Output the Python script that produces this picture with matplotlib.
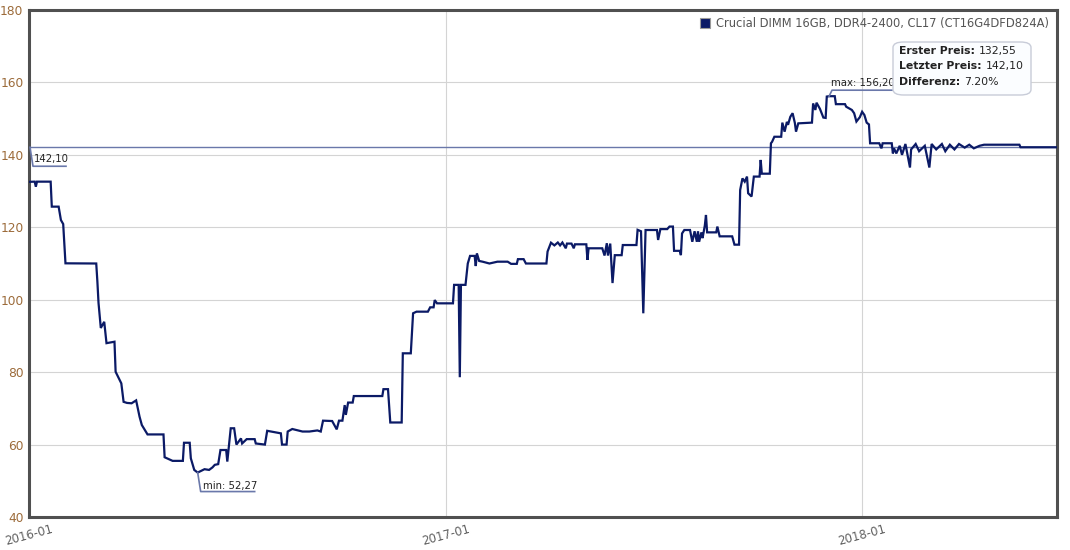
import matplotlib
matplotlib.use("Agg")
import matplotlib.pyplot as plt
import matplotlib.dates as mdates
import matplotlib.transforms as mtrans
from matplotlib.patches import FancyBboxPatch, Rectangle
import pandas as pd
import numpy as np

# ---- data (day offset from 2016-01-01, price in EUR) ----
start_date = "2016-01-01"
end_date = "2018-06-21"
days = [0, 5, 6, 7, 19, 20, 26, 28, 30, 32, 59, 60, 61, 63, 66, 68, 75, 76, 81, 83,
        86, 90, 94, 97, 99, 104, 118, 119, 126, 135, 136, 141, 142, 145, 148, 154, 158, 161, 163, 166,
        168, 173, 174, 177, 180, 182, 186, 187, 191, 198, 199, 207, 209, 221, 222, 226, 227, 231, 240, 246,
        253, 256, 258, 266, 270, 272, 275, 277, 278, 280, 284, 285, 310, 311, 315, 317, 327, 328, 335, 337,
        340, 350, 352, 355, 356, 358, 372, 373, 377, 378, 379, 383, 385, 387, 391, 392, 393, 395, 398, 404,
        411, 420, 423, 428, 429, 434, 436, 454, 455, 458, 461, 464, 466, 468, 471, 472, 476, 478, 479, 489,
        490, 491, 503, 505, 507, 508, 510, 512, 514, 520, 521, 533, 534, 537, 539, 541, 551, 552, 554, 560,
        562, 565, 566, 571, 572, 573, 575, 580, 582, 584, 586, 587, 588, 590, 591, 593, 594, 595, 603, 604,
        606, 617, 619, 623, 624, 626, 628, 630, 631, 634, 636, 641, 642, 643, 650, 651, 652, 654, 660, 661,
        663, 665, 666, 668, 670, 672, 673, 675, 687, 688, 690, 691, 694, 697, 699, 700, 702, 707, 708, 716,
        717, 722, 724, 726, 729, 731, 733, 735, 737, 738, 746, 748, 749, 757, 758, 759, 761, 764, 766, 769,
        773, 774, 778, 781, 786, 790, 792, 796, 801, 804, 808, 812, 816, 821, 825, 829, 834, 838, 869, 870, 902]
prices = [132.55, 132.6, 131.2, 132.6, 132.6, 125.7, 125.7, 122.0, 120.9, 110.05, 110.0, 105.0, 99.1, 92.2, 93.9, 88.0, 88.4, 80.1, 76.9, 71.8,
          71.5, 71.4, 72.2, 67.7, 65.4, 62.8, 62.8, 56.5, 55.5, 55.5, 60.5, 60.5, 56.2, 53.0, 52.27, 53.2, 53.0, 53.7, 54.4, 54.6,
          58.5, 58.5, 55.3, 64.5, 64.5, 60.0, 61.7, 60.3, 61.5, 61.5, 60.3, 60.0, 63.8, 63.1, 60.0, 60.0, 63.6, 64.3, 63.6, 63.6,
          63.9, 63.6, 66.6, 66.5, 64.2, 66.6, 66.6, 70.9, 68.2, 71.6, 71.6, 73.4, 73.4, 75.3, 75.3, 66.1, 66.1, 85.2, 85.2, 96.25,
          96.7, 96.7, 97.9, 97.9, 99.9, 99.0, 99.0, 104.1, 104.1, 78.6, 104.1, 104.1, 110.0, 112.1, 112.1, 109.3, 112.8, 110.7, 110.5, 110.0,
          110.5, 110.5, 109.9, 109.9, 111.2, 111.2, 110.0, 110.0, 113.3, 115.75, 115.0, 115.8, 115.0, 115.8, 114.2, 115.5, 115.5, 114.2, 115.3, 115.3,
          111.0, 114.2, 114.2, 112.2, 115.6, 112.2, 115.5, 104.6, 112.3, 112.3, 115.1, 115.1, 119.3, 118.9, 96.25, 119.25, 119.25, 116.5, 119.5, 119.5,
          120.2, 120.2, 113.5, 113.5, 112.3, 118.3, 119.25, 119.25, 116.0, 118.9, 116.0, 118.9, 116.0, 118.6, 117.0, 120.5, 123.4, 118.6, 118.6, 120.2,
          117.5, 117.5, 115.2, 115.2, 130.3, 133.5, 132.6, 134.0, 129.4, 128.5, 134.0, 134.0, 138.6, 134.8, 134.8, 143.2, 143.6, 145.0, 145.0, 148.9,
          146.4, 149.1, 148.3, 150.5, 151.5, 148.8, 146.4, 148.7, 148.9, 154.2, 152.4, 154.4, 152.7, 150.3, 150.2, 156.1, 156.2, 156.2, 154.0, 154.0,
          153.3, 152.4, 151.5, 149.2, 150.4, 151.9, 151.0, 148.9, 148.4, 143.2, 143.2, 141.8, 143.2, 143.2, 140.4, 141.8, 140.4, 142.5, 140.0, 143.0,
          136.5, 141.5, 143.0, 141.0, 142.5, 136.5, 143.0, 141.5, 143.0, 141.0, 142.8, 141.5, 143.0, 142.0, 142.8, 141.8, 142.5, 142.8, 142.8, 142.1, 142.1]
series_name = "Crucial DIMM 16GB, DDR4-2400, CL17 (CT16G4DFD824A)"
first_price_label = "132,55"
last_price_label = "142,10"
diff_label = "7.20%"
min_label = "min: 52,27"
max_label = "max: 156,20"
y_ticks = [40, 60, 80, 100, 120, 140, 160, 180]
x_ticks = ["2016-01-01", "2017-01-01", "2018-01-01"]
x_ticklabels = ["2016-01", "2017-01", "2018-01"]

dates = pd.Timestamp(start_date) + pd.to_timedelta(days, unit="D")
last_price = 142.10

# ---- styles ----
LINE = "#0b1a66"
ANN = "#6a78aa"
GRID = "#d4d4d4"
FRAME = "#505050"
YTXT = "#9c6b3a"
XTXT = "#606060"

plt.rcParams["font.family"] = ["DejaVu Sans"]
fig = plt.figure(figsize=(10.7, 5.5), dpi=100)
fig.patch.set_facecolor("white")
W, H = 1070, 550
ax = fig.add_axes([29 / W, 1 - 517 / H, (1057 - 29) / W, (517 - 10) / H])
ax.set_facecolor("white")

ax.plot(dates, prices, color=LINE, lw=1.6, solid_joinstyle="miter", zorder=3)
ax.axhline(last_price, color=ANN, lw=1.0, zorder=2)

ax.set_ylim(40, 180)
ax.set_xlim(pd.Timestamp(start_date), pd.Timestamp(end_date))
ax.set_yticks(y_ticks)
ax.set_xticks([pd.Timestamp(t) for t in x_ticks])
ax.set_xticklabels(x_ticklabels, rotation=15, ha="center", color=XTXT, fontsize=8.5)
ax.set_yticklabels([str(v) for v in y_ticks], color=YTXT, fontsize=8.8)
ax.tick_params(axis="both", length=0)
ax.tick_params(axis="y", pad=4)
ax.tick_params(axis="x", pad=4)
ax.grid(True, color=GRID, lw=0.8, zorder=0)
for s in ax.spines.values():
    s.set_color(FRAME)
    s.set_linewidth(2.2)

# ---- point labels with connector ----
def point_label(xd, yv, pts, text_off, text):
    line_x = []
    line_y = []
    for (dx, dy) in pts:
        t = mtrans.offset_copy(ax.transData, fig=fig, x=dx, y=dy, units="dots")
        p = t.transform((mdates.date2num(xd), yv))
        line_x.append(p[0])
        line_y.append(p[1])
    ax.plot(line_x, line_y, transform=None, color=ANN, lw=1.2, zorder=4, clip_on=False)
    ax.annotate(text, xy=(mdates.date2num(xd), yv), xytext=text_off,
                textcoords="offset pixels", fontsize=7.3, color="#222222",
                ha="left", va="center", zorder=5)

imin = int(np.argmin(prices))
imax = int(np.argmax(prices))
point_label(dates[imin], prices[imin], [(0, 0), (3, -19), (57, -19)], (5, -13), min_label)
point_label(dates[imax], prices[imax], [(0, 0), (3, 6), (63, 6)], (2, 13), max_label)
point_label(pd.Timestamp(start_date), last_price, [(1, 0), (4, -19), (37, -19)], (5, -12), last_price_label)

# ---- legend ----
fig.patches.append(Rectangle((700 / W, 1 - 28 / H), 10 / W, 10 / H, transform=fig.transFigure,
                             facecolor=LINE, edgecolor="#999999", lw=0.8))
fig.text(716 / W, 1 - 23 / H, series_name, fontsize=8.3, color="#555555", ha="left", va="center")

# ---- tooltip box ----
box = FancyBboxPatch((893 / W, 1 - 95 / H), (1031 - 893) / W, (95 - 42) / H,
                     boxstyle="round,pad=0,rounding_size=0.01", transform=fig.transFigure,
                     facecolor="#fbfdff", edgecolor="#c8ccd8", lw=1.0, zorder=10)
fig.patches.append(box)
rows = [("Erster Preis:", first_price_label), ("Letzter Preis:", last_price_label), ("Differenz:", diff_label)]
renderer = fig.canvas.get_renderer()
for i, (lab, val) in enumerate(rows):
    yy = 1 - (51 + i * 15.5) / H
    t = fig.text(899 / W, yy, lab, fontsize=7.8, fontweight="bold", color="#222222", ha="left", va="center", zorder=11)
    bb = t.get_window_extent(renderer=renderer)
    fig.text((bb.x1 + 4) / W, yy, val, fontsize=7.8, color="#222222", ha="left", va="center", zorder=11)

fig.savefig("out.png", dpi=100, facecolor="white")
